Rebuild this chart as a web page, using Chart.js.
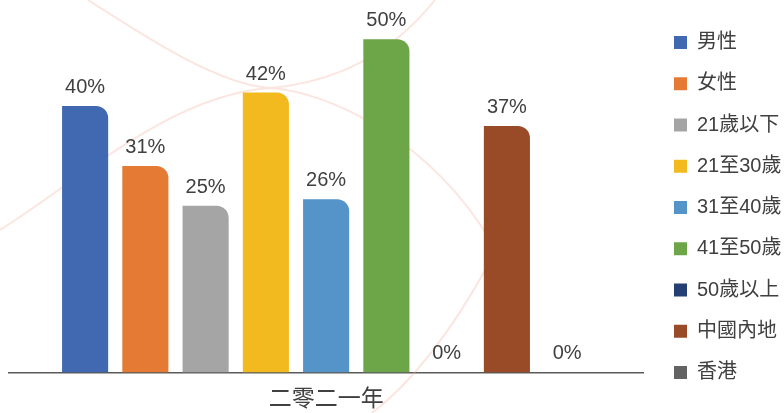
<!DOCTYPE html>
<html lang="zh-Hant">
<head>
<meta charset="utf-8">
<title>二零二一年</title>
<script src="https://cdn.jsdelivr.net/npm/chart.js@4/dist/chart.umd.min.js"></script>
<style>
  html, body { margin: 0; padding: 0; background: #fff; }
  #wrap { width: 784px; height: 413px; position: relative; }
</style>
</head>
<body>
<div id="wrap"><canvas id="chart"></canvas></div>
<script>
'use strict';

/* ── Data ─────────────────────────────────────────────── */

const categories = ['二零二一年'];
const seriesNames = ['男性', '女性', '21歲以下', '21至30歲', '31至40歲', '41至50歲', '50歲以上', '中國內地', '香港'];
const seriesValues = [40, 31, 25, 42, 26, 50, 0, 37, 0];
const seriesColors = ['#4169b1', '#e47a34', '#a5a5a5', '#f2ba1e', '#5594c8', '#6da648', '#243f74', '#994a27', '#636363'];

const FONT = '"Liberation Sans", Arial, "Noto Sans CJK TC", sans-serif';
const TEXT = '#404040';
const LEGEND_BOX_X = 674;
const LEGEND_SHIFT_Y = -2;

/* ── Plugins ──────────────────────────────────────────── */

// faint decorative waves behind the bars
const backdrop = {
  id: 'backdrop',
  beforeDatasetsDraw(chart) {
    const ctx = chart.ctx;
    ctx.save();
    ctx.strokeStyle = 'rgba(242, 170, 150, 0.3)';
    ctx.lineWidth = 2;
    ctx.beginPath();
    ctx.moveTo(88, 0);
    ctx.bezierCurveTo(150, 40, 220, 85, 270, 88);
    ctx.bezierCurveTo(330, 92, 430, 140, 490, 240);
    ctx.moveTo(0, 230);
    ctx.bezierCurveTo(80, 180, 170, 95, 270, 88);
    ctx.bezierCurveTo(340, 82, 395, 50, 435, 0);
    ctx.moveTo(488, 265);
    ctx.bezierCurveTo(455, 325, 415, 380, 372, 413);
    ctx.stroke();
    ctx.restore();
  },
};

// percentage labels above each bar
const valueLabels = {
  id: 'valueLabels',
  afterDatasetsDraw(chart) {
    const ctx = chart.ctx;
    ctx.save();
    ctx.font = `20px ${FONT}`;
    ctx.fillStyle = TEXT;
    ctx.textAlign = 'center';
    ctx.textBaseline = 'alphabetic';
    chart.data.datasets.forEach((ds, i) => {
      const bar = chart.getDatasetMeta(i).data[0];
      if (!bar) return;
      ctx.fillText(`${ds.data[0]}%`, bar.x, bar.y - 13);
    });
    ctx.restore();
  },
};

// move the legend column a bit to the right of the plot
const legendNudge = {
  id: 'legendNudge',
  afterLayout(chart) {
    const lg = chart.legend;
    const dx = LEGEND_BOX_X - (lg.left + lg.options.labels.padding);
    lg.left += dx;
    lg.right += dx;
    lg.top += LEGEND_SHIFT_Y;
    lg.bottom += LEGEND_SHIFT_Y;
  },
};

/* ── Chart ────────────────────────────────────────────── */

new Chart(document.getElementById('chart'), {
  type: 'bar',
  data: {
    labels: categories,
    datasets: seriesNames.map((name, i) => ({
      label: name,
      data: [seriesValues[i]],
      backgroundColor: seriesColors[i],
      borderRadius: { topLeft: 0, topRight: 12, bottomLeft: 0, bottomRight: 0 },
      borderSkipped: 'start',
      categoryPercentage: 0.855,
      barPercentage: 0.765,
    })),
  },
  options: {
    responsive: true,
    maintainAspectRatio: false,
    animation: false,
    layout: { padding: { left: 9, right: 2, top: 6, bottom: 0 } },
    plugins: {
      legend: {
        position: 'right',
        labels: {
          boxWidth: 13,
          boxHeight: 13,
          padding: 21.25,
          color: TEXT,
          font: { family: FONT, size: 20 },
        },
      },
      tooltip: { enabled: false },
    },
    scales: {
      x: {
        grid: { display: false, drawTicks: true, tickLength: 13 },
        border: { display: true, color: '#5a5a5a', width: 1.5 },
        ticks: {
          color: TEXT,
          padding: 0,
          font: { family: FONT, size: 23 },
        },
      },
      y: {
        display: false,
        min: 0,
        max: 55,
      },
    },
  },
  plugins: [backdrop, valueLabels, legendNudge],
});
</script>
</body>
</html>
